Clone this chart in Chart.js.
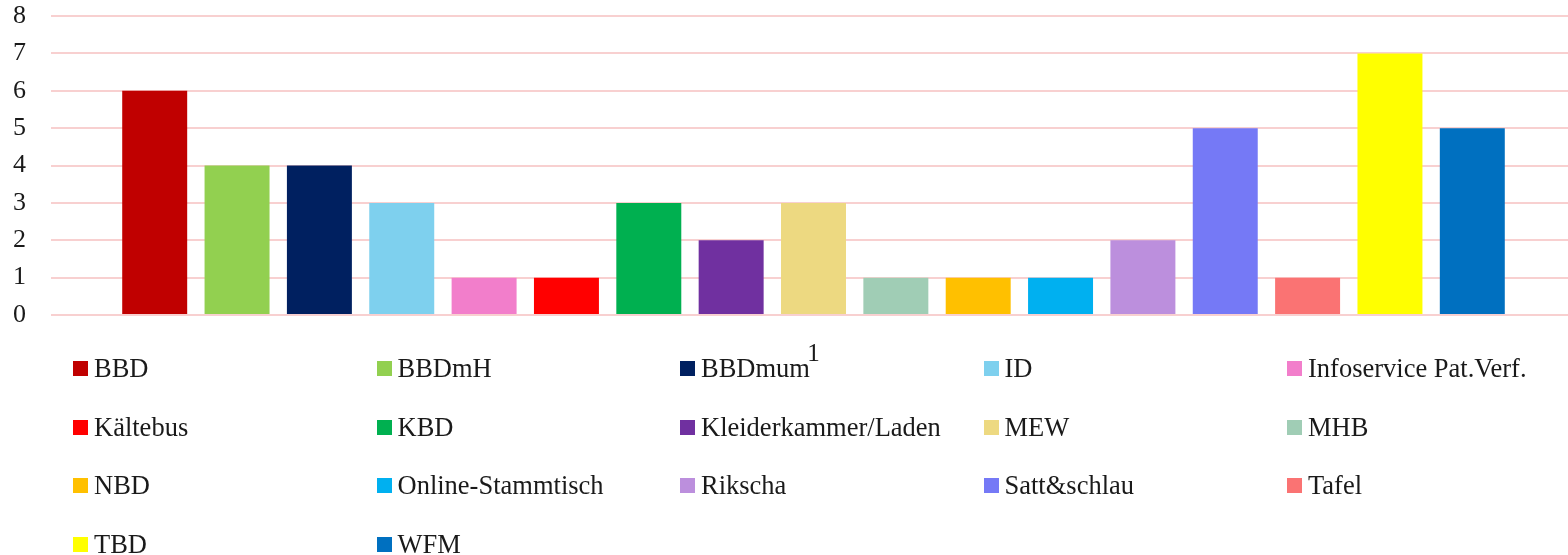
<!DOCTYPE html>
<html lang="de">
<head>
<meta charset="utf-8">
<title>Einsätze nach Dienst</title>
<script src="https://cdn.jsdelivr.net/npm/chart.js@4/dist/chart.umd.min.js"></script>
<style>
    html, body {
        margin: 0;
        padding: 0;
        background: #fff;
        width: 1568px;
        height: 555px;
        overflow: hidden;
        font-family: "Liberation Serif", "Times New Roman", serif;
        color: #1a1a1a;
    }
    #chartWrap {
        position: absolute;
        left: 0;
        top: 0;
        width: 1568px;
        height: 380px;
        overflow: hidden;
    }
    #chartBox {
        position: relative;
        width: 1576px;
        height: 380px;
    }
    #legend {
        position: absolute;
        left: 73px;
        top: 339px;
        display: grid;
        grid-template-columns: repeat(5, 303.5px);
        grid-auto-rows: 58.7px;
        font-size: 26.5px;
    }
    .legend-item {
        display: flex;
        align-items: center;
        white-space: nowrap;
    }
    .legend-box {
        width: 15px;
        height: 15px;
        margin-right: 6px;
        flex-shrink: 0;
    }
</style>
</head>
<body>
<div id="chartWrap">
    <div id="chartBox"><canvas id="serviceChart"></canvas></div>
</div>
<div id="legend"></div>

<script>
// Chart data
const categories = ['1'];

const seriesNames = [
    'BBD', 'BBDmH', 'BBDmum', 'ID', 'Infoservice Pat.Verf.',
    'Kältebus', 'KBD', 'Kleiderkammer/Laden', 'MEW', 'MHB',
    'NBD', 'Online-Stammtisch', 'Rikscha', 'Satt&schlau', 'Tafel',
    'TBD', 'WFM'
];

const seriesValues = [6, 4, 4, 3, 1, 1, 3, 2, 3, 1, 1, 1, 2, 5, 1, 7, 5];

const seriesColors = [
    '#C00000', '#92D050', '#002060', '#7ED0EE', '#F27ECB',
    '#FF0000', '#00B050', '#7030A0', '#EDD981', '#A0CDB5',
    '#FFC000', '#00B0F0', '#BC8FDD', '#7579F6', '#FA7373',
    '#FFFF00', '#0070C0'
];

const yTickValues = [0, 1, 2, 3, 4, 5, 6, 7, 8];

const textColor = '#1a1a1a';
const gridColor = 'rgb(248, 208, 208)';
const fontFamily = '"Liberation Serif", "Times New Roman", serif';

document.addEventListener('DOMContentLoaded', () => {
    initializeChart();
    buildLegend();
});

// One dataset per service, all sharing the single category
function buildDatasets() {
    return seriesNames.map((name, i) => ({
        label: name,
        data: [seriesValues[i]],
        backgroundColor: seriesColors[i],
        borderWidth: 0,
        barPercentage: 0.789,
        categoryPercentage: 0.918
    }));
}

function initializeChart() {
    const ctx = document.getElementById('serviceChart').getContext('2d');
    new Chart(ctx, {
        type: 'bar',
        data: {
            labels: categories,
            datasets: buildDatasets()
        },
        options: {
            responsive: true,
            maintainAspectRatio: false,
            animation: false,
            layout: {
                padding: { top: 16, left: 0, right: 0, bottom: 0 }
            },
            plugins: {
                legend: { display: false },
                tooltip: { enabled: false }
            },
            scales: {
                x: {
                    grid: { display: false },
                    border: { display: false },
                    ticks: {
                        color: textColor,
                        padding: 16,
                        font: { family: fontFamily, size: 25 }
                    },
                    afterFit: (scale) => {
                        scale.height = 65;
                    }
                },
                y: {
                    min: yTickValues[0],
                    max: yTickValues[yTickValues.length - 1],
                    afterBuildTicks: (scale) => {
                        scale.ticks = yTickValues.map(v => ({ value: v }));
                    },
                    grid: {
                        color: gridColor,
                        lineWidth: 2,
                        drawTicks: false
                    },
                    border: { display: false },
                    ticks: {
                        color: textColor,
                        padding: 25,
                        font: { family: fontFamily, size: 26 }
                    },
                    afterFit: (scale) => {
                        scale.width = 51;
                        scale.paddingTop = 0;
                        scale.paddingBottom = 0;
                    }
                }
            }
        }
    });
}

// Legend as a fixed 5-column grid like the original
function buildLegend() {
    const legend = document.getElementById('legend');
    legend.innerHTML = '';
    seriesNames.forEach((name, i) => {
        const item = document.createElement('div');
        item.className = 'legend-item';
        const box = document.createElement('span');
        box.className = 'legend-box';
        box.style.background = seriesColors[i];
        const label = document.createElement('span');
        label.textContent = name;
        item.appendChild(box);
        item.appendChild(label);
        legend.appendChild(item);
    });
}
</script>
</body>
</html>
